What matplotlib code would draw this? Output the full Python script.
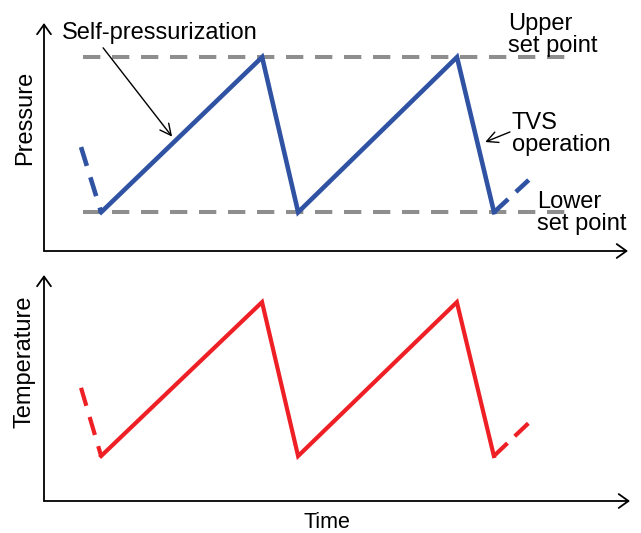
import matplotlib
matplotlib.use("Agg")
import matplotlib.pyplot as plt

plt.rcParams['font.family'] = ['Liberation Sans', 'DejaVu Sans']

# time (arbitrary units) of the cycle corners
t_lead = [1.88, 2.9]                     # dashed lead-in
t_cycle = [2.9, 11.07, 12.9, 20.96, 22.84]
t_tail = [22.84, 24.6]                   # dashed continuation

# pressure (arbitrary units)
p_lead = [2.68, 1.0]
p_cycle = [1.0, 5.0, 1.0, 5.0, 1.0]
p_tail = [1.0, 1.83]

# set points
lower_set = 1.0
upper_set = 5.0
set_t = [1.98, 26.8]

# temperature (arbitrary units)
temp_lead = [2.92, 1.16]
temp_cycle = [1.16, 5.13, 1.16, 5.13, 1.16]
temp_tail = [1.16, 2.01]

blue = '#2f52a3'
red = '#ee1f25'
grey = '#8e8e8e'
fs = 17

fig = plt.figure(figsize=(6.41, 5.33), dpi=100)
W, H = 641, 533

ax1 = fig.add_axes([44 / W, 1 - 251 / H, 584 / W, 228 / H])
ax2 = fig.add_axes([44 / W, 1 - 501 / H, 586 / W, 226 / H])
ax1.set_xlim(0, 29.64)
ax1.set_ylim(0, 5.88)
ax2.set_xlim(0, 29.75)
ax2.set_ylim(0, 5.83)


def axis_arrows(ax):
    for s in ax.spines.values():
        s.set_visible(False)
    ax.set_xticks([])
    ax.set_yticks([])
    ax.patch.set_alpha(0)
    style = '->, head_length=0.35, head_width=0.25'
    ax.annotate('', xy=(1, 0), xytext=(0, 0), xycoords='axes fraction',
                arrowprops=dict(arrowstyle=style, lw=1.3, color='black',
                                mutation_scale=20, shrinkA=0, shrinkB=0))
    ax.annotate('', xy=(0, 1), xytext=(0, 0), xycoords='axes fraction',
                arrowprops=dict(arrowstyle=style, lw=1.3, color='black',
                                mutation_scale=20, shrinkA=0, shrinkB=0))


axis_arrows(ax1)
axis_arrows(ax2)

# set point lines
for level in (lower_set, upper_set):
    ax1.plot(set_t, [level, level], color=grey, lw=2.9,
             dashes=(4.3, 2.9), dash_capstyle='butt', zorder=1)

# pressure trace
ax1.plot(t_cycle, p_cycle, color=blue, lw=3.3, solid_joinstyle='miter', zorder=3)
ax1.plot(t_lead, p_lead, color=blue, lw=3.3, dashes=(4.3, 2.6),
         dash_capstyle='butt', zorder=3)
ax1.plot(t_tail, p_tail, color=blue, lw=3.3, dashes=(4.2, 2.3),
         dash_capstyle='butt', zorder=3)

# temperature trace
ax2.plot(t_cycle, temp_cycle, color=red, lw=3.0, solid_joinstyle='miter', zorder=3)
ax2.plot(t_lead, temp_lead, color=red, lw=3.0, dashes=(4.5, 2.8),
         dash_capstyle='butt', zorder=3)
ax2.plot(t_tail, temp_tail, color=red, lw=3.0, dashes=(4.5, 2.4),
         dash_capstyle='butt', zorder=3)

# annotations
ax1.text(0.91, 5.63, 'Self-pressurization', fontsize=fs, ha='left', va='center')
ax1.annotate('', xy=(6.5, 2.95), xytext=(3.0, 5.24),
             arrowprops=dict(arrowstyle='->, head_length=0.5, head_width=0.25',
                             lw=1.0, color='black', shrinkA=0, shrinkB=0,
                             mutation_scale=16))
ax1.text(23.55, 5.58, 'Upper\nset point', fontsize=fs, ha='left', va='center',
         linespacing=1.0)
ax1.text(23.75, 3.02, 'TVS\noperation', fontsize=fs, ha='left', va='center',
         linespacing=1.0)
ax1.annotate('', xy=(22.39, 2.81), xytext=(23.65, 3.07),
             arrowprops=dict(arrowstyle='->, head_length=0.5, head_width=0.25',
                             lw=1.0, color='black', shrinkA=0, shrinkB=0,
                             mutation_scale=16))
ax1.text(25.03, 0.98, 'Lower\nset point', fontsize=fs, ha='left', va='center',
         linespacing=1.0)

fig.text(25 / W, 1 - 118 / H, 'Pressure', fontsize=fs, rotation=90,
         ha='center', va='center')
fig.text(25 / W, 1 - 362 / H, 'Temperature', fontsize=fs, rotation=90,
         ha='center', va='center')
fig.text(327 / W, 1 - 522 / H, 'Time', fontsize=15.5, ha='center', va='center')

fig.savefig('out.png', dpi=100)
